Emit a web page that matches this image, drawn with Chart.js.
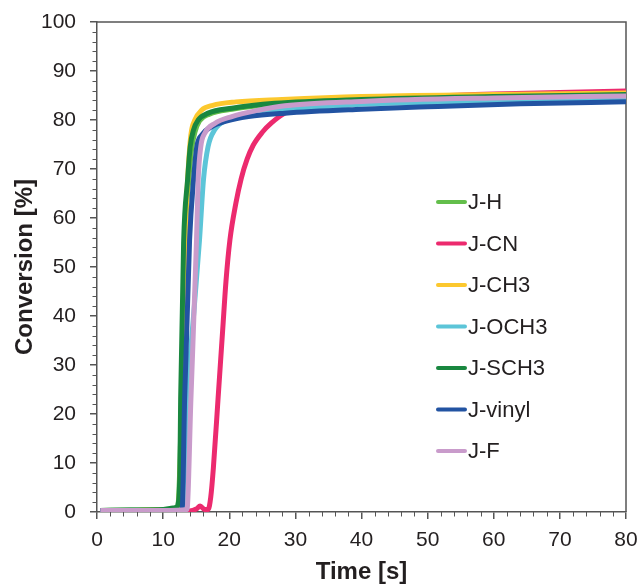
<!DOCTYPE html>
<html>
<head>
<meta charset="utf-8">
<script src="https://cdn.jsdelivr.net/npm/chart.js@4/dist/chart.umd.min.js"></script>
<style>
html,body{margin:0;padding:0;background:#fff;}
#wrap{width:640px;height:585px;position:relative;}
</style>
</head>
<body>
<div id="wrap"><canvas id="c" width="640" height="585"></canvas></div>
<script>
const seriesNames = ['J-H','J-CN','J-CH3','J-OCH3','J-SCH3','J-vinyl','J-F'];
const seriesColors = ['#63be4b','#ec2a6e','#fcc82e','#5cc5d8','#19873f','#2253a2','#c99bcb'];

const tH = [0.5, 5, 10, 12.2, 12.8, 13.3, 13.9, 14.3, 14.8, 15.5, 17, 20.4, 27, 40, 60, 80];
const vH = [0.3, 0.4, 0.5, 1, 23, 55, 68, 74, 77.5, 79.8, 81.2, 82.2, 83.2, 84, 84.7, 85.1];

const tCN = [0.5, 10, 14, 15, 15.6, 16.3, 16.8, 17.2, 17.6, 18.3, 19, 19.5, 20.1, 21, 21.8, 22.7, 23.6, 25, 26.3, 28.4, 32, 40, 50, 60, 70, 80];
const vCN = [0, 0.1, 0.2, 0.6, 1.2, 0.5, 0.5, 3, 9, 23, 37, 47, 55.5, 63, 68, 72, 74.8, 77.5, 79.3, 81.4, 83, 84, 84.8, 85.3, 85.6, 85.9];

const tCH3 = [0.5, 5, 10, 12.3, 12.8, 13.3, 13.8, 14.2, 14.8, 15.8, 17.5, 21, 28, 40, 60, 80];
const vCH3 = [0.2, 0.3, 0.4, 1, 20, 55, 70, 77, 80, 82, 83, 83.7, 84.2, 84.8, 85.2, 85.5];

const tOCH3 = [0.5, 10, 13.2, 13.7, 14.6, 15.5, 16.1, 16.8, 17.8, 19.6, 22.9, 28.4, 40, 60, 80];
const vOCH3 = [0.2, 0.3, 0.5, 23, 40, 55.5, 67.8, 74.6, 78, 80, 81.4, 82, 83.2, 83.8, 84.3];

const tSCH3 = [0.5, 5, 10, 11.5, 12.0, 12.4, 12.55, 12.65, 13.1, 13.7, 14.1, 14.6, 15.3, 16.8, 20.4, 26.9, 40, 60, 80];
const vSCH3 = [0.3, 0.4, 0.5, 0.8, 1, 3, 10, 23, 55, 67.8, 74.6, 78, 80, 81.4, 82.4, 83.4, 84.2, 84.8, 85.2];

const tVinyl = [0.5, 10, 12.5, 12.9, 13.25, 14.0, 14.6, 15.1, 15.8, 17.3, 19.4, 22.9, 28.4, 40, 50, 64, 80];
const vVinyl = [0.2, 0.2, 0, 1, 23, 55.5, 67.8, 74.6, 76.9, 78.6, 79.7, 80.7, 81.4, 82.2, 82.7, 83.3, 83.7];

const tF = [0.5, 10, 13.6, 14.2, 15.05, 15.3, 15.7, 16.3, 17.8, 20.4, 24.4, 28.4, 40, 60, 80];
const vF = [0.3, 0.3, 0.5, 23, 55.5, 67.8, 74.6, 77.3, 79.3, 80.7, 82, 82.9, 83.8, 84.5, 84.9];

const xTicks = [0,10,20,30,40,50,60,70,80];
const yTicks = [0,10,20,30,40,50,60,70,80,90,100];

const times = [tH, tCN, tCH3, tOCH3, tSCH3, tVinyl, tF];
const values = [vH, vCN, vCH3, vOCH3, vSCH3, vVinyl, vF];

const FONT = "'Liberation Sans', Arial, sans-serif";
const AXIS = '#555555';
const TXT = '#231f20';

const datasets = seriesNames.map((name, i) => ({
  label: name,
  data: times[i].map((t, k) => ({x: t, y: values[i][k]})),
  borderColor: seriesColors[i],
  backgroundColor: seriesColors[i],
  borderWidth: 5,
  pointRadius: 0,
  fill: false,
  cubicInterpolationMode: 'monotone',
  order: seriesNames.length - 1 - i
}));

const extras = {
  id: 'extras',
  beforeDatasetsDraw(chart) {
    const ctx = chart.ctx, a = chart.chartArea;
    const xs = chart.scales.x, ys = chart.scales.y;
    ctx.save();
    ctx.strokeStyle = AXIS;
    ctx.lineWidth = 1.5;
    ctx.beginPath();
    ctx.moveTo(a.left, a.top); ctx.lineTo(a.right, a.top); ctx.lineTo(a.right, a.bottom);
    ctx.stroke();
    ctx.lineWidth = 1;
    ctx.beginPath();
    for (let v = 2; v < 100; v += 2) {
      if (v % 10 === 0) continue;
      const y = Math.round(ys.getPixelForValue(v)) + 0.5;
      ctx.moveTo(a.left - 4.5, y); ctx.lineTo(a.left, y);
    }
    for (let t = 2; t < 80; t += 2) {
      if (t % 10 === 0) continue;
      const x = Math.round(xs.getPixelForValue(t)) + 0.5;
      ctx.moveTo(x, a.bottom); ctx.lineTo(x, a.bottom + 4.5);
    }
    ctx.stroke();
    ctx.restore();
  },
  afterDraw(chart) {
    const ctx = chart.ctx;
    ctx.save();
    ctx.font = '22px ' + FONT;
    ctx.textBaseline = 'middle';
    ctx.textAlign = 'left';
    chart.data.datasets.forEach((ds, i) => {
      const y = 202 + i * 41.5;
      ctx.strokeStyle = ds.borderColor;
      ctx.lineWidth = 4;
      ctx.lineCap = 'round';
      ctx.beginPath();
      ctx.moveTo(438, y); ctx.lineTo(465, y);
      ctx.stroke();
      ctx.fillStyle = TXT;
      ctx.fillText(ds.label, 468, y + 1);
    });
    ctx.restore();
  }
};

new Chart(document.getElementById('c'), {
  type: 'line',
  data: {datasets},
  plugins: [extras],
  options: {
    responsive: false,
    animation: false,
    devicePixelRatio: 1,
    layout: {padding: {left: 0, top: 22, right: 14, bottom: 0}},
    plugins: {legend: {display: false}, tooltip: {enabled: false}},
    scales: {
      x: {
        type: 'linear', min: 0, max: 80,
        afterBuildTicks(s) { s.ticks = xTicks.map(v => ({value: v})); },
        afterFit(s) { s.height = 73; s.paddingLeft = 0; s.paddingRight = 0; },
        ticks: {color: TXT, font: {family: FONT, size: 21}, padding: 9, maxRotation: 0, autoSkip: false},
        grid: {drawOnChartArea: false, drawTicks: true, tickLength: 7, color: AXIS, lineWidth: 1.5},
        border: {display: true, color: AXIS, width: 1.5},
        title: {display: true, text: 'Time [s]', color: TXT, font: {family: FONT, size: 24, weight: 'bold', lineHeight: 1}, padding: {top: 0, bottom: 1}}
      },
      y: {
        type: 'linear', min: 0, max: 100,
        afterBuildTicks(s) { s.ticks = yTicks.map(v => ({value: v})); },
        afterFit(s) { s.width = 97; s.paddingTop = 0; s.paddingBottom = 0; },
        ticks: {color: TXT, font: {family: FONT, size: 21}, padding: 14, autoSkip: false},
        grid: {drawOnChartArea: false, drawTicks: true, tickLength: 7, color: AXIS, lineWidth: 1.5},
        border: {display: true, color: AXIS, width: 1.5},
        title: {display: true, text: 'Conversion [%]', color: TXT, font: {family: FONT, size: 24, weight: 'bold', lineHeight: 1}, padding: {top: 13, bottom: 0}}
      }
    }
  }
});
</script>
</body>
</html>
